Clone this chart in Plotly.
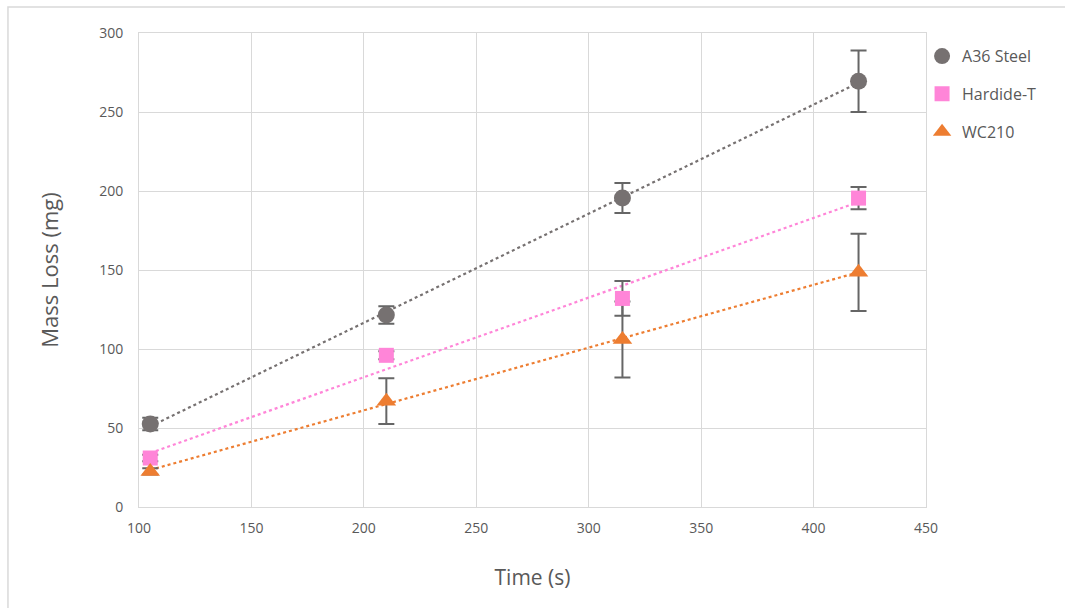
import numpy as np
import plotly.graph_objects as go

# Erosion test results: exposure time vs. mass loss
time_s = [105, 210, 315, 420]

a36_loss = [52.5, 121.5, 195.5, 269.5]
a36_err = [4, 5.5, 9.5, 19.5]

hardide_loss = [31, 96, 132, 195.5]
hardide_err = [2, 2.5, 11, 7]

wc210_loss = [22.5, 67, 106, 148.5]
wc210_err = [2, 14.5, 24, 24.5]

series = [
    ("A36 Steel", a36_loss, a36_err, "#767171", "circle", 17),
    ("Hardide-T", hardide_loss, hardide_err, "#FF85D8", "square", 15),
    ("WC210", wc210_loss, wc210_err, "#ED7D31", "triangle-up", 17),
]

TEXT = "#595959"
GRID = "#D9D9D9"
FONT = "'Open Sans', Lato, sans-serif"

fig = go.Figure()

# Linear trendlines (least squares), drawn first so they sit behind
x_arr = np.array(time_s, dtype=float)
for name, y, err, color, symbol, size in series:
    slope, intercept = np.polyfit(x_arr, np.array(y, dtype=float), 1)
    fig.add_trace(go.Scatter(
        x=x_arr, y=slope * x_arr + intercept,
        mode="lines",
        line=dict(color=color, width=2.2, dash="dot"),
        showlegend=False, hoverinfo="skip",
    ))

# Error bars on their own traces so markers can cover them
for name, y, err, color, symbol, size in series:
    fig.add_trace(go.Scatter(
        x=time_s, y=y, mode="markers",
        marker=dict(size=1, opacity=0),
        error_y=dict(type="data", array=err, visible=True,
                     color="#666666", thickness=2, width=8),
        showlegend=False, hoverinfo="skip",
    ))

for name, y, err, color, symbol, size in series:
    fig.add_trace(go.Scatter(
        x=time_s, y=y, name=name, legendgroup=name,
        mode="markers",
        marker=dict(symbol=symbol, size=size, color=color,
                    line=dict(width=0)),
    ))

fig.update_layout(
    width=1065, height=608,
    margin=dict(l=139, r=139, t=33, b=101),
    paper_bgcolor="white", plot_bgcolor="white",
    font=dict(family=FONT, color=TEXT, size=14),
    showlegend=True,
    legend=dict(
        x=0.995, y=0.987, xanchor="left", yanchor="top",
        font=dict(family=FONT, size=16, color=TEXT),
        itemsizing="trace", tracegroupgap=14,
        itemwidth=30, bgcolor="rgba(0,0,0,0)",
    ),
    xaxis=dict(
        range=[100, 450], dtick=50, tick0=100,
        showgrid=True, gridcolor=GRID, gridwidth=1,
        showline=True, linecolor=GRID, linewidth=1, mirror=True,
        zeroline=False, ticks="", ticklabelstandoff=8,
        tickfont=dict(size=14, color=TEXT),
        title=dict(text="Time (s)", font=dict(size=21, color=TEXT),
                   standoff=34),
    ),
    yaxis=dict(
        range=[0, 300], dtick=50,
        showgrid=True, gridcolor=GRID, gridwidth=1,
        showline=True, linecolor=GRID, linewidth=1, mirror=True,
        zeroline=False, ticks="", ticklabelstandoff=12,
        tickfont=dict(size=14, color=TEXT),
        title=dict(text="Mass Loss (mg)", font=dict(size=22, color=TEXT),
                   standoff=34),
    ),
    shapes=[dict(
        type="rect", xref="paper", yref="paper",
        x0=-0.1665, x1=1.3, y0=-0.4, y1=1.055,
        line=dict(color=GRID, width=1.5), fillcolor="rgba(0,0,0,0)",
        layer="below",
    )],
)

fig.write_html("out.html")
